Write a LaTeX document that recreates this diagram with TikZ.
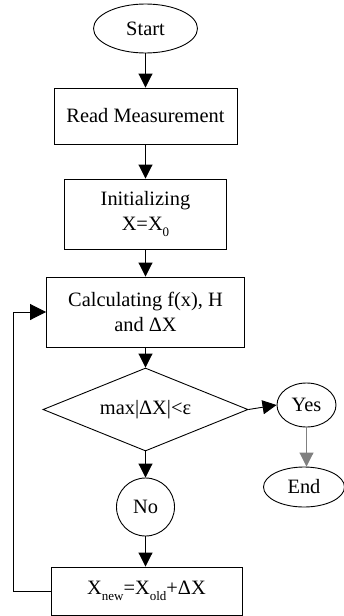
\documentclass[tikz,border=0pt]{standalone}
\usepackage{fontspec}
\setmainfont{Liberation Serif}
\usetikzlibrary{shapes.geometric,arrows.meta}
\newcommand\lowsub[1]{\raisebox{-0.28em}{\fontsize{13}{13}\selectfont #1}}
\begin{document}
\begin{tikzpicture}[x=1pt,y=-1pt,
  every node/.style={font=\fontsize{20.4}{24.5}\selectfont, inner sep=0pt},
  box/.style={draw, rectangle, line width=0.9pt, align=center},
  oval/.style={draw, ellipse, line width=0.9pt},
  decide/.style={draw, diamond, aspect=2.47, line width=0.9pt},
  arr/.style={line width=0.9pt, -{Triangle[length=14pt,width=14pt]}},
  bigarr/.style={line width=0.9pt, -{Triangle[length=16pt,width=16pt]}}
]
\useasboundingbox (0,0) rectangle (343,616);
\node[oval, minimum width=104pt, minimum height=49pt] (start) at (145.5,28.5) {Start};
\node[box, minimum width=183pt, minimum height=56pt] (read) at (145.5,116) {Read Measurement};
\node[box, minimum width=162pt, minimum height=70pt] (init) at (145.5,214) {Initializing\\X=X\lowsub{0}};
\node[box, minimum width=198pt, minimum height=70pt] (calc) at (145.5,312) {Calculating f(x), H\\and ΔX};
\node[decide, minimum width=205pt, minimum height=83pt] (dec) at (145.5,409.5) {max|ΔX|<ε};
\node[oval, minimum width=59pt, minimum height=44pt] (yes) at (306.5,405) {Yes};
\node[oval, minimum width=81pt, minimum height=40pt] (end) at (304,487) {End};
\node[oval, minimum width=58pt, minimum height=58pt] (no) at (145.5,507) {No};
\node[box, minimum width=191pt, minimum height=48pt] (upd) at (146.5,591) {X\lowsub{new}=X\lowsub{old}+ΔX};
\coordinate (fb1) at (13,591);
\coordinate (fb2) at (13,312);
\draw[arr] (start) -- (read);
\draw[arr] (read) -- (init);
\draw[arr] (init) -- (calc);
\draw[arr] (calc) -- (dec);
\draw[arr] (dec.east) -- (yes.west);
\draw[arr, draw=gray, fill=black] (yes.south) -- (yes.south |- end.north);
\draw[arr] (dec.south) -- (no.north);
\draw[arr] (no.south) -- (no.south |- upd.north);
\draw[bigarr] (upd.west) -- (fb1) -- (fb2) -- (calc.west);
\end{tikzpicture}
\end{document}
